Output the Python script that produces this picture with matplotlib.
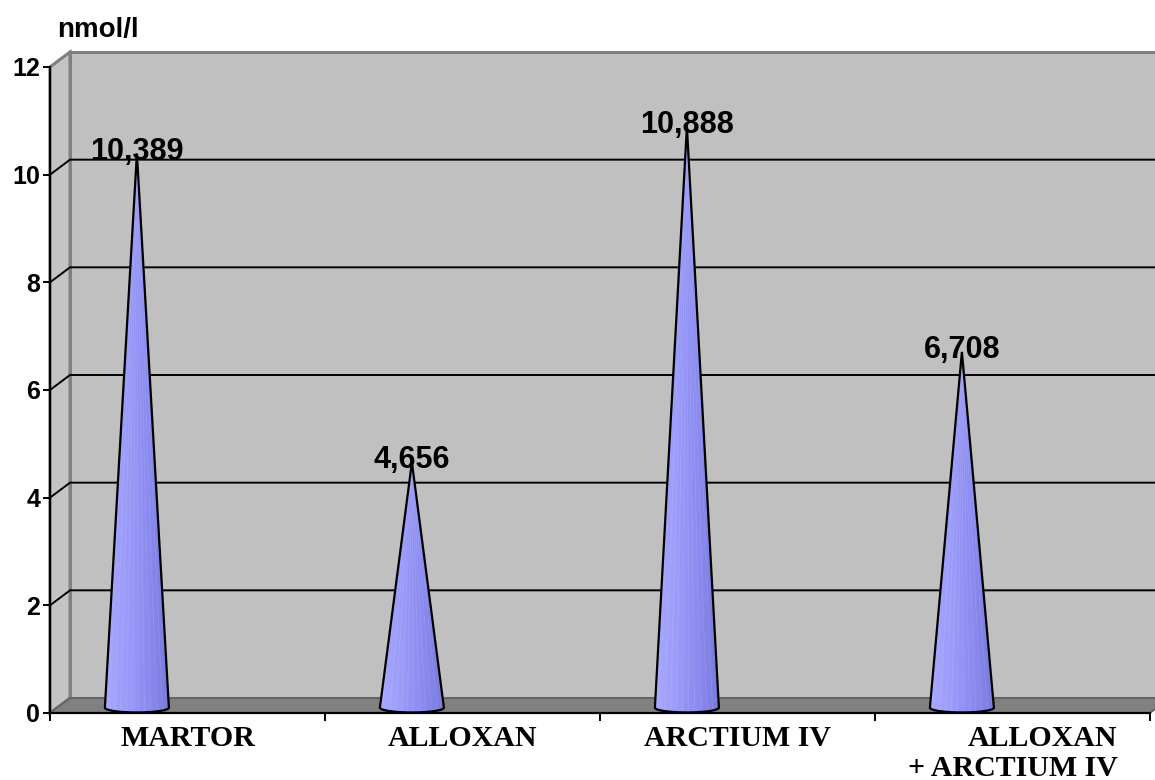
import matplotlib.pyplot as plt
import numpy as np
from matplotlib.patches import Polygon
from matplotlib.colors import LinearSegmentedColormap

# Data
categories = ['MARTOR', 'ALLOXAN', 'ARCTIUM IV', 'ALLOXAN\n+ ARCTIUM IV']
values = [10.389, 4.656, 10.888, 6.708]
yticks = [0, 2, 4, 6, 8, 10, 12]
unit = 'nmol/l'

# 3D look settings (depth offset in data units)
dx = 20 / 275          # horizontal depth shift (category units)
dy = 15 / 53.83        # vertical depth shift (value units)
ymax = 12
ncat = len(categories)

fig = plt.figure(figsize=(11.55, 7.8), dpi=100)
ax = fig.add_axes([50 / 1155, 67 / 780, 1100 / 1155, 646 / 780])
ax.set_xlim(0, ncat)
ax.set_ylim(0, ymax)
ax.patch.set_visible(False)

# Back wall
back = Polygon([(dx, dy), (ncat + dx, dy), (ncat + dx, ymax + dy), (dx, ymax + dy)],
               closed=True, facecolor='#c0c0c0', edgecolor='#808080', lw=2.2,
               clip_on=False, zorder=0)
ax.add_patch(back)
# Side wall
side = Polygon([(0, 0), (dx, dy), (dx, ymax + dy), (0, ymax)], closed=True,
               facecolor='#c4c4c4', edgecolor='#808080', lw=2.2, clip_on=False, zorder=0.5)
ax.add_patch(side)

# Gridlines on back + side wall
for v in yticks[1:-1]:
    ax.plot([0, dx, ncat + dx], [v, v + dy, v + dy], color='black', lw=1.4,
            clip_on=False, zorder=1, solid_capstyle='butt')

# Floor
floor = Polygon([(0, 0), (ncat, 0), (ncat + dx, dy), (dx, dy)], closed=True,
                facecolor='#808080', edgecolor='#606060', lw=1.2, clip_on=False, zorder=2)
ax.add_patch(floor)

# Cones
cmap = LinearSegmentedColormap.from_list('cone', ['#a9a9ff', '#9b9bfa', '#8a8af0', '#7a7adc'])
half_w = 0.1164
base_y = 0.1
ell_h = 0.09
t = np.linspace(np.pi, 2 * np.pi, 40)
for i, v in enumerate(values):
    cx = i + 0.316
    arc_x = cx + half_w * np.cos(t)
    arc_y = base_y + ell_h * np.sin(t)
    verts = [(cx, v)] + list(zip(arc_x, arc_y))
    cone = Polygon(verts, closed=True, facecolor='none', edgecolor='black', lw=1.6,
                   clip_on=False, zorder=4, joinstyle='miter')
    ax.add_patch(cone)
    grad = np.linspace(0, 1, 64).reshape(1, -1)
    im = ax.imshow(grad, cmap=cmap, aspect='auto', zorder=3,
                   extent=[cx - half_w, cx + half_w, base_y - ell_h, v],
                   interpolation='bicubic')
    im.set_clip_path(cone)
    # faint streaks
    for s in np.linspace(-0.7, 0.8, 9):
        ax.plot([cx + s * half_w, cx + s * half_w * 0.02], [base_y - ell_h * 0.6, v], color='white',
                lw=0.5, alpha=0.12, zorder=3.5, clip_path=cone)
    ax.text(cx, v - 0.11, f'{v:.3f}'.replace('.', ','), ha='center', va='baseline',
            fontsize=22, fontweight='bold', family='Liberation Sans', zorder=6)

ax.set_xlim(0, ncat)
ax.set_ylim(0, ymax)

# Axes
for s in ['top', 'right']:
    ax.spines[s].set_visible(False)
ax.spines['left'].set_linewidth(1.6)
ax.spines['bottom'].set_linewidth(1.6)
ax.spines['left'].set_zorder(5)
ax.spines['bottom'].set_zorder(5)

ax.set_yticks(yticks)
ax.set_yticklabels([str(v) for v in yticks], fontsize=18, fontweight='bold', family='Liberation Sans')
ax.tick_params(axis='y', direction='out', length=5, width=1.4, pad=2)

ax.set_xticks(range(ncat + 1))
ax.set_xticklabels([])
ax.tick_params(axis='x', which='major', direction='out', length=6, width=1.4)
ax.set_xticks(np.arange(ncat) + 0.5, minor=True)
ax.set_xticklabels(categories, minor=True, fontsize=21.5, fontweight='bold', family='Liberation Serif',
                   linespacing=1.1)
ax.tick_params(axis='x', which='minor', length=0, pad=9)
for lbl in ax.get_xticklabels(minor=True):
    lbl.set_multialignment('right')

fig.text(98 / 1155, 1 - 37 / 780, unit, ha='center', va='baseline', fontsize=20,
         fontweight='bold', family='Liberation Sans')

fig.savefig('out.png', dpi=100)
